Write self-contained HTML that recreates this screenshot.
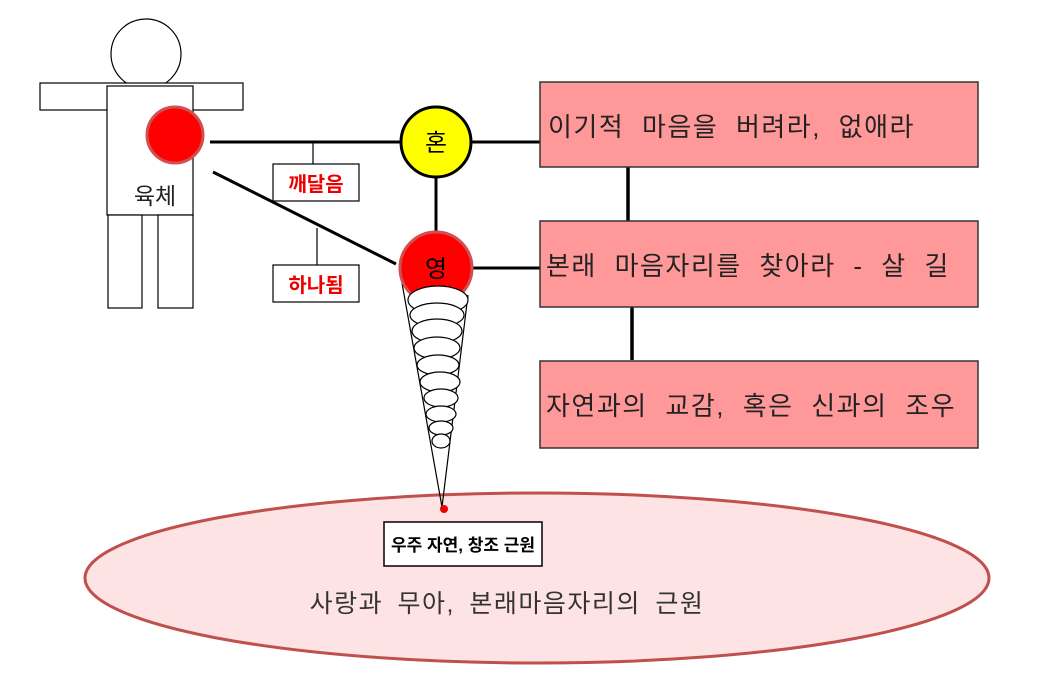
<!DOCTYPE html>
<html><head><meta charset="utf-8"><style>
html,body{margin:0;padding:0;background:#fff;}
svg{display:block;}
text{font-family:"Liberation Sans","Noto Sans CJK KR","NanumGothic",sans-serif;}
</style></head><body>
<svg width="1053" height="682" viewBox="0 0 1053 682" xmlns="http://www.w3.org/2000/svg">
<ellipse cx="537" cy="578" rx="452" ry="85" fill="#fde3e3" stroke="#c0504d" stroke-width="3"/>
<circle cx="146" cy="54" r="35" fill="#fff" stroke="#000" stroke-width="1.2"/>
<rect x="40" y="83" width="203" height="27" fill="#fff" stroke="#000" stroke-width="1.2"/>
<rect x="107" y="86" width="86" height="129" fill="#fff" stroke="#000" stroke-width="1.2"/>
<rect x="108" y="215" width="34" height="93" fill="#fff" stroke="#000" stroke-width="1.2"/>
<rect x="158" y="215" width="35" height="93" fill="#fff" stroke="#000" stroke-width="1.2"/>
<text x="155" y="204" font-size="23" text-anchor="middle" fill="#222">육체</text>
<circle cx="175" cy="135" r="28" fill="#f00" stroke="#d05050" stroke-width="3"/>
<line x1="210" y1="142" x2="400" y2="142" stroke="#000" stroke-width="3"/>
<line x1="313" y1="142" x2="313" y2="165" stroke="#000" stroke-width="1.2"/>
<line x1="213" y1="172" x2="396" y2="264" stroke="#000" stroke-width="3"/>
<line x1="317" y1="228" x2="317" y2="265" stroke="#000" stroke-width="1.2"/>
<rect x="273" y="164" width="86" height="37" fill="#fff" stroke="#000" stroke-width="1.2"/>
<text x="316" y="191" font-size="20" font-weight="bold" text-anchor="middle" fill="#e00">깨달음</text>
<rect x="273" y="265" width="86" height="37" fill="#fff" stroke="#000" stroke-width="1.2"/>
<text x="316" y="292" font-size="20" font-weight="bold" text-anchor="middle" fill="#e00">하나됨</text>
<line x1="436" y1="178" x2="436" y2="232" stroke="#000" stroke-width="3"/>
<line x1="472" y1="142" x2="540" y2="142" stroke="#000" stroke-width="3"/>
<line x1="472" y1="268" x2="540" y2="268" stroke="#000" stroke-width="3"/>
<line x1="628" y1="166" x2="628" y2="221" stroke="#000" stroke-width="3.5"/>
<line x1="632" y1="307" x2="632" y2="360" stroke="#000" stroke-width="3.5"/>
<circle cx="436" cy="142" r="35" fill="#ff0" stroke="#000" stroke-width="3"/>
<text x="436" y="151" font-size="24" text-anchor="middle" fill="#000">혼</text>
<line x1="402" y1="283" x2="442" y2="507" stroke="#000" stroke-width="1.2"/>
<line x1="468" y1="295" x2="442" y2="507" stroke="#000" stroke-width="1.2"/>
<circle cx="436" cy="268" r="36" fill="#f00" stroke="#d05050" stroke-width="3"/>
<text x="436" y="277" font-size="24" text-anchor="middle" fill="#000">영</text>
<g fill="#fff" stroke="#000" stroke-width="1.2">
<ellipse cx="438" cy="300" rx="30" ry="14"/>
<ellipse cx="437" cy="315" rx="27" ry="12"/>
<ellipse cx="437" cy="331" rx="25" ry="12"/>
<ellipse cx="437" cy="348" rx="23" ry="11"/>
<ellipse cx="438" cy="365" rx="21" ry="10"/>
<ellipse cx="440" cy="382" rx="20" ry="10"/>
<ellipse cx="441" cy="398" rx="17" ry="9"/>
<ellipse cx="441" cy="414" rx="15" ry="8"/>
<ellipse cx="441" cy="428" rx="12" ry="7"/>
<ellipse cx="441" cy="441" rx="9" ry="7"/>
</g>
<circle cx="444" cy="509" r="4" fill="#e00"/>
<rect x="540" y="82" width="438" height="85" fill="#ff9999" stroke="#333" stroke-width="1.5"/>
<text x="548" y="136" font-size="26" letter-spacing="1.5" word-spacing="9" fill="#222">이기적 마음을 버려라, 없애라</text>
<rect x="540" y="221" width="438" height="86" fill="#ff9999" stroke="#333" stroke-width="1.5"/>
<text x="546" y="275" font-size="26" letter-spacing="1.5" word-spacing="9" fill="#222">본래 마음자리를 찾아라 - 살 길</text>
<rect x="540" y="361" width="438" height="87" fill="#ff9999" stroke="#333" stroke-width="1.5"/>
<text x="546" y="415" font-size="26" letter-spacing="1.5" word-spacing="9" fill="#222">자연과의 교감, 혹은 신과의 조우</text>
<rect x="384" y="522" width="158" height="44" fill="#fff" stroke="#000" stroke-width="1.5"/>
<text x="463" y="551" font-size="17" font-weight="bold" text-anchor="middle" fill="#000">우주 자연, 창조 근원</text>
<text x="507" y="612" font-size="25" letter-spacing="1.5" word-spacing="6" text-anchor="middle" fill="#333">사랑과 무아, 본래마음자리의 근원</text>
</svg>
</body></html>
